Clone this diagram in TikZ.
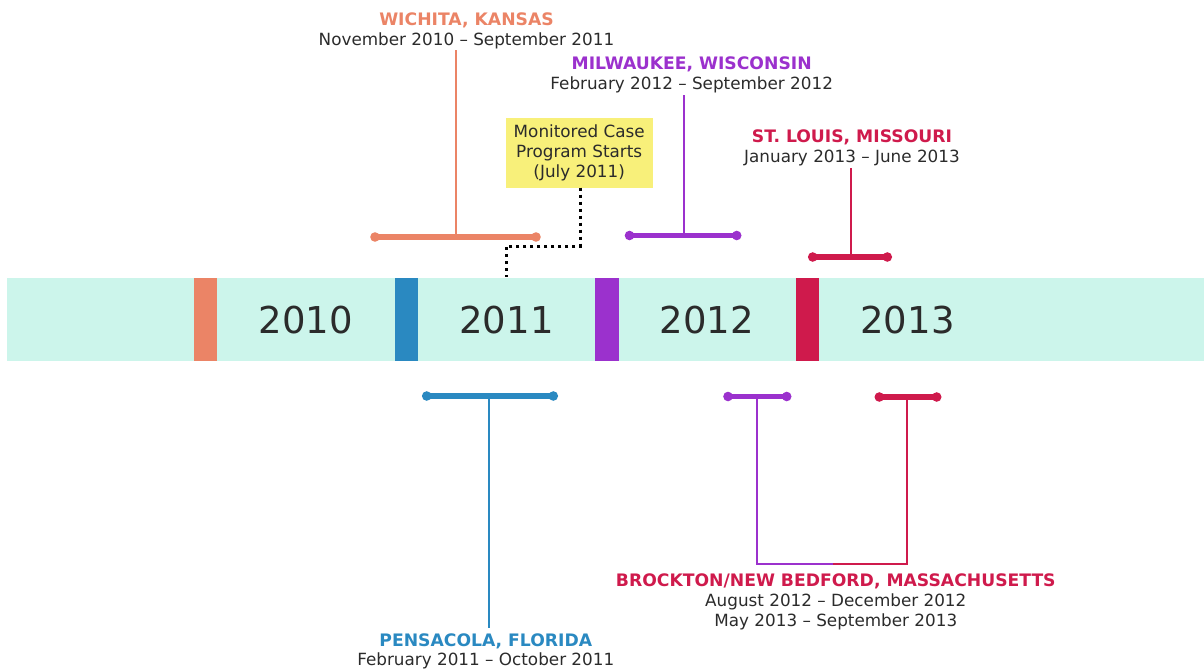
\documentclass[tikz,border=0pt]{standalone}
\usepackage{fontspec}
\setmainfont{DejaVu Sans}
\definecolor{cOrange}{HTML}{EB8466}
\definecolor{cBlue}{HTML}{2A89C1}
\definecolor{cPurple}{HTML}{9B31CD}
\definecolor{cRed}{HTML}{CF1A4C}
\definecolor{mint}{HTML}{CCF5EB}
\definecolor{boxyellow}{HTML}{F8F07A}
\definecolor{txt}{HTML}{2B2B2B}
\begin{document}
\begin{tikzpicture}[x=1pt,y=-1pt,
  title/.style={font=\fontsize{17.2}{20}\selectfont\bfseries, inner sep=0pt, anchor=base},
  datetext/.style={font=\fontsize{16.8}{20}\selectfont, text=txt, inner sep=0pt, anchor=base},
  yeartext/.style={font=\fontsize{37}{40}\selectfont, text=txt, inner sep=0pt, anchor=base},
  rangebar/.style={line width=5.2pt},
  stem/.style={line width=2.2pt},
  ybox/.style={fill=boxyellow, draw=none, minimum width=147pt, minimum height=70pt, inner sep=0pt},
  dotline/.style={black, line width=3pt, dash pattern=on 3pt off 4pt}
]
\useasboundingbox (0,0) rectangle (1204,670);

% band
\fill[mint] (7,278) rectangle (1204,360.5);
\fill[cOrange] (194.3,278) rectangle (217.3,360.5);
\fill[cBlue] (395,278) rectangle (418.3,360.5);
\fill[cPurple] (595.3,278) rectangle (618.7,360.5);
\fill[cRed] (795.7,278) rectangle (819,360.5);

\node[yeartext] (y2010) at (306,333.3) {2010};
\node[yeartext] (y2011) at (506.5,333.3) {2011};
\node[yeartext] (y2012) at (706.7,333.3) {2012};
\node[yeartext] (y2013) at (907.5,333.3) {2013};

% Wichita
\node[title, text=cOrange] (wichT) at (466.5,25) {WICHITA, KANSAS};
\node[datetext] (wichD) at (466.5,45) {November 2010 – September 2011};
\coordinate (wA) at (375,237);
\coordinate (wB) at (536,237);
\coordinate (wM) at (456.3,237);
\coordinate (wTop) at (456.3,50);
\draw[stem, cOrange] (wM) -- (wTop);
\draw[rangebar, cOrange] (wA) -- (wB);
\fill[cOrange] (wA) circle (4.8) (wB) circle (4.8);

% Monitored case box
\node[ybox] (box) at (579.2,152.5) {};
\node[datetext] (box1) at (579.2,137.7) {Monitored Case};
\node[datetext] (box2) at (579.2,157.7) {Program Starts};
\node[datetext] (box3) at (579.2,177.7) {(July 2011)};
\coordinate (dA) at (580,246);
\coordinate (dB) at (506.7,246);
\coordinate (dC) at (506.7,277);
\draw[dotline] (box.south -| dA) -- (dA) -- (dB) -- (dC);

% Milwaukee
\node[title, text=cPurple] (milT) at (691.7,69) {MILWAUKEE, WISCONSIN};
\node[datetext] (milD) at (691.7,89) {February 2012 – September 2012};
\coordinate (mA) at (629.5,235.5);
\coordinate (mB) at (736.7,235.5);
\coordinate (mM) at (684,235.5);
\coordinate (mTop) at (684,95);
\draw[stem, cPurple] (mM) -- (mTop);
\draw[rangebar, cPurple] (mA) -- (mB);
\fill[cPurple] (mA) circle (4.8) (mB) circle (4.8);

% St Louis
\node[title, text=cRed] (stlT) at (852,142.7) {ST. LOUIS, MISSOURI};
\node[datetext] (stlD) at (852,162.7) {January 2013 – June 2013};
\coordinate (sA) at (812.7,257);
\coordinate (sB) at (887.3,257);
\coordinate (sM) at (850.7,257);
\coordinate (sTop) at (850.7,168);
\draw[stem, cRed] (sM) -- (sTop);
\draw[rangebar, cRed] (sA) -- (sB);
\fill[cRed] (sA) circle (4.8) (sB) circle (4.8);

% Pensacola
\node[title, text=cBlue] (penT) at (485.8,646.7) {PENSACOLA, FLORIDA};
\node[datetext] (penD) at (485.8,665) {February 2011 – October 2011};
\coordinate (pA) at (426.7,396);
\coordinate (pB) at (553.3,396);
\coordinate (pM) at (489,396);
\coordinate (pBot) at (489,628);
\draw[stem, cBlue] (pM) -- (pBot);
\draw[rangebar, cBlue] (pA) -- (pB);
\fill[cBlue] (pA) circle (4.8) (pB) circle (4.8);

% Brockton / New Bedford
\node[title, text=cRed] (broT) at (835.8,586) {BROCKTON/NEW BEDFORD, MASSACHUSETTS};
\node[datetext] (broD1) at (835.8,606.7) {August 2012 – December 2012};
\node[datetext] (broD2) at (835.8,626) {May 2013 – September 2013};
\coordinate (bpA) at (728,396.5);
\coordinate (bpB) at (786.7,396.5);
\coordinate (bpM) at (756.7,396.5);
\coordinate (brA) at (879.3,397);
\coordinate (brB) at (936.7,397);
\coordinate (brM) at (907.3,397);
\coordinate (bJoin) at (833.3,564);
\draw[stem, cPurple] (bpM) |- (bJoin);
\draw[stem, cRed] (brM) |- (bJoin);
\draw[rangebar, cPurple] (bpA) -- (bpB);
\fill[cPurple] (bpA) circle (4.8) (bpB) circle (4.8);
\draw[rangebar, cRed] (brA) -- (brB);
\fill[cRed] (brA) circle (4.8) (brB) circle (4.8);
\end{tikzpicture}
\end{document}
